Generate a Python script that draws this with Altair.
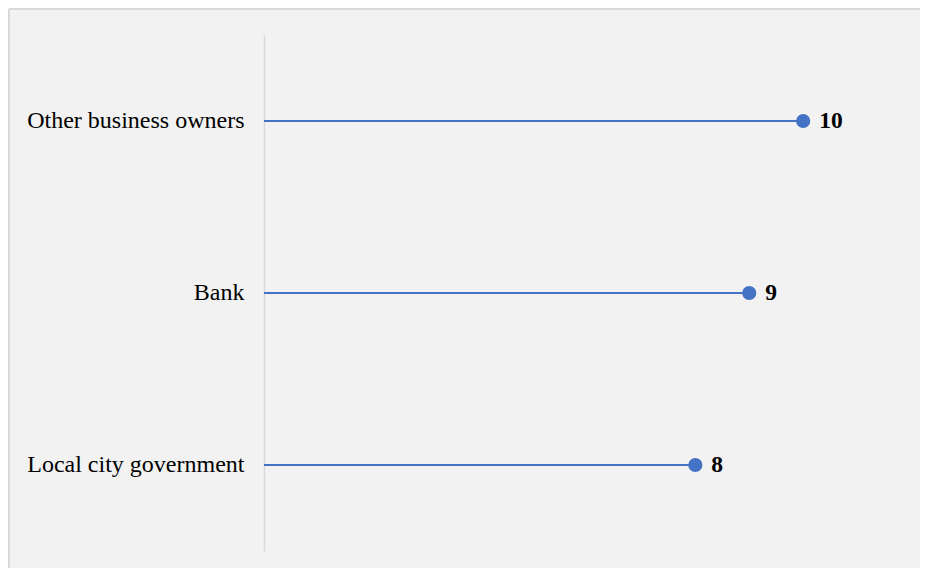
import altair as alt
import pandas as pd

categories = ["Other business owners", "Bank", "Local city government"]
values = [10, 9, 8]

df = pd.DataFrame({"category": categories, "value": values})

W, H = 647, 516
PL, PT, PR, PB = 256, 27, 9, 17

x_scale = alt.Scale(domain=[0, 12])
y_enc = alt.Y("category:N", sort=categories, scale=alt.Scale(paddingInner=0, paddingOuter=0),
              axis=alt.Axis(title=None, ticks=False, domainColor="#d9d9d9", domainWidth=1.5,
                            labelFont="Liberation Serif", labelFontSize=24, labelColor="#000000",
                            labelPadding=20, labelLimit=0))

base = alt.Chart(df)

stems = base.mark_rule(color="#4472c4", strokeWidth=2).encode(
    x=alt.X("zero:Q", scale=x_scale, axis=None),
    x2="value:Q",
    y=y_enc,
).transform_calculate(zero="0")

dots = base.mark_point(filled=True, size=200, color="#4472c4", opacity=1).encode(
    x=alt.X("value:Q", scale=x_scale, axis=None),
    y=alt.Y("category:N", sort=categories),
)

labels = base.mark_text(align="left", baseline="middle", dx=16, font="Liberation Serif",
                        fontSize=23.5, fontWeight="bold", color="#000000").encode(
    x=alt.X("value:Q", scale=x_scale, axis=None),
    y=alt.Y("category:N", sort=categories),
    text="value:Q",
)

border_top = alt.Chart(pd.DataFrame({"a": [0]})).mark_rule(color="#d9d9d9", strokeWidth=2, clip=False).encode(
    x=alt.value(-PL + 1), x2=alt.value(W + PR), y=alt.value(-PT + 1)
)
border_left = alt.Chart(pd.DataFrame({"a": [0]})).mark_rule(color="#d9d9d9", strokeWidth=2, clip=False).encode(
    x=alt.value(-PL + 1), y=alt.value(-PT + 1), y2=alt.value(H + PB)
)

chart = alt.layer(border_top, border_left, stems, dots, labels).properties(
    width=W, height=H,
    autosize=alt.AutoSizeParams(type="none"),
    padding={"left": PL, "top": PT, "right": PR, "bottom": PB},
    background="#f2f2f2",
).configure_view(stroke=None)

chart.save("out.html", embed_options={"renderer": "svg", "actions": False})
